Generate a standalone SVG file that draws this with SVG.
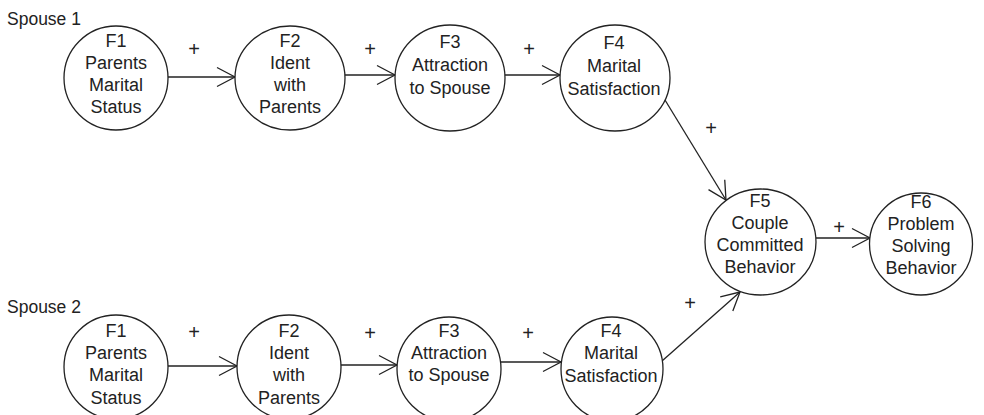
<svg xmlns="http://www.w3.org/2000/svg" width="984" height="415" viewBox="0 0 984 415">
<style>
.n{fill:#fff;stroke:#222;stroke-width:1.3}
.t{font-family:"Liberation Sans",Arial,sans-serif;font-size:18px;fill:#222;text-anchor:middle}
.l{font-family:"Liberation Sans",Arial,sans-serif;font-size:17.5px;fill:#222}
.p{font-family:"Liberation Sans",Arial,sans-serif;font-size:20px;fill:#222;text-anchor:middle}
.c{fill:none;stroke:#222;stroke-width:1.3}
</style>
<defs>
<marker id="arr" markerUnits="userSpaceOnUse" markerWidth="22" markerHeight="22" viewBox="-21 -11 22 22" refX="0" refY="0" orient="auto" overflow="visible">
<path d="M-18,-9.5 L0,0 L-18,9.5" fill="none" stroke="#222" stroke-width="1.3"/>
</marker>
</defs>
<rect width="984" height="415" fill="#fff"/>
<text class="l" x="7" y="25">Spouse 1</text>
<text class="l" x="7" y="313">Spouse 2</text>
<g id="connectors">
<line class="c" x1="168" y1="77" x2="235" y2="77" marker-end="url(#arr)"/>
<line class="c" x1="345" y1="75" x2="395" y2="75" marker-end="url(#arr)"/>
<line class="c" x1="505" y1="75" x2="560" y2="75" marker-end="url(#arr)"/>
<line class="c" x1="665" y1="100" x2="726" y2="200" marker-end="url(#arr)"/>
<line class="c" x1="816" y1="238" x2="870" y2="238" marker-end="url(#arr)"/>
<line class="c" x1="168" y1="366" x2="237" y2="366" marker-end="url(#arr)"/>
<line class="c" x1="341" y1="365" x2="397" y2="365" marker-end="url(#arr)"/>
<line class="c" x1="501" y1="362" x2="561" y2="362" marker-end="url(#arr)"/>
<line class="c" x1="662" y1="361" x2="740" y2="292" marker-end="url(#arr)"/>
<text class="p" x="194" y="56">+</text>
<text class="p" x="370" y="56">+</text>
<text class="p" x="529" y="56">+</text>
<text class="p" x="711" y="135">+</text>
<text class="p" x="839" y="234">+</text>
<text class="p" x="194" y="339">+</text>
<text class="p" x="370" y="340">+</text>
<text class="p" x="528" y="340">+</text>
<text class="p" x="690" y="310">+</text>
</g>
<g id="s1f1"><ellipse class="n" cx="116" cy="78" rx="52" ry="52"/>
<text class="t" x="116" y="47">F1</text><text class="t" x="116" y="69">Parents</text><text class="t" x="116" y="91">Marital</text><text class="t" x="116" y="113">Status</text></g>
<g id="s1f2"><ellipse class="n" cx="290" cy="78" rx="55" ry="52"/>
<text class="t" x="290" y="47">F2</text><text class="t" x="290" y="69">Ident</text><text class="t" x="290" y="91">with</text><text class="t" x="290" y="113">Parents</text></g>
<g id="s1f3"><ellipse class="n" cx="450" cy="78" rx="55" ry="53"/>
<text class="t" x="450" y="48">F3</text><text class="t" x="450" y="71">Attraction</text><text class="t" x="450" y="94">to Spouse</text></g>
<g id="s1f4"><ellipse class="n" cx="615" cy="78" rx="55" ry="53"/>
<text class="t" x="614" y="49">F4</text><text class="t" x="614" y="72">Marital</text><text class="t" x="614" y="95">Satisfaction</text></g>
<g id="f5"><ellipse class="n" cx="760.5" cy="242" rx="55.5" ry="53"/>
<text class="t" x="760" y="207">F5</text><text class="t" x="760" y="229">Couple</text><text class="t" x="760" y="251">Committed</text><text class="t" x="760" y="273">Behavior</text></g>
<g id="f6"><ellipse class="n" cx="921" cy="244" rx="51.5" ry="51"/>
<text class="t" x="921" y="208">F6</text><text class="t" x="921" y="230">Problem</text><text class="t" x="921" y="252">Solving</text><text class="t" x="921" y="274">Behavior</text></g>
<g id="s2f1"><ellipse class="n" cx="116" cy="367" rx="52" ry="52"/>
<text class="t" x="116" y="337">F1</text><text class="t" x="116" y="359">Parents</text><text class="t" x="116" y="381">Marital</text><text class="t" x="116" y="404">Status</text></g>
<g id="s2f2"><ellipse class="n" cx="289" cy="367" rx="52" ry="52"/>
<text class="t" x="289" y="337">F2</text><text class="t" x="289" y="359">Ident</text><text class="t" x="289" y="381">with</text><text class="t" x="289" y="404">Parents</text></g>
<g id="s2f3"><ellipse class="n" cx="449" cy="369" rx="52" ry="52"/>
<text class="t" x="449" y="337">F3</text><text class="t" x="449" y="359">Attraction</text><text class="t" x="449" y="381">to Spouse</text></g>
<g id="s2f4"><ellipse class="n" cx="612" cy="369" rx="51" ry="52"/>
<text class="t" x="611" y="337">F4</text><text class="t" x="611" y="359">Marital</text><text class="t" x="611" y="382">Satisfaction</text></g>
</svg>
